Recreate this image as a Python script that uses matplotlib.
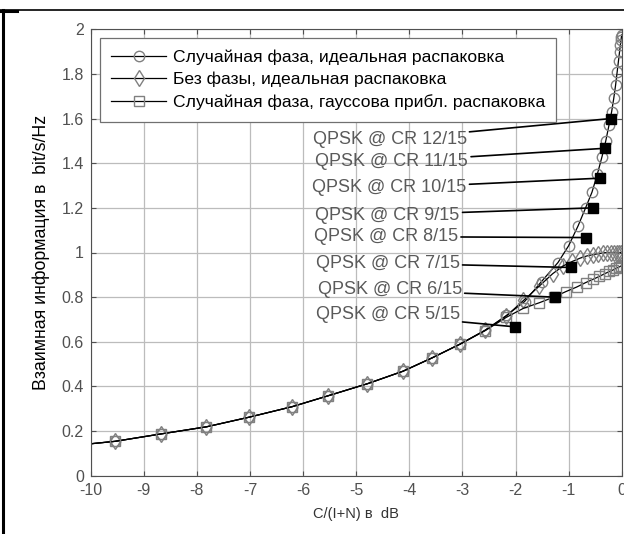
import numpy as np
import matplotlib.pyplot as plt
from matplotlib.lines import Line2D
from matplotlib.ticker import FuncFormatter

plt.rcParams['font.family'] = ['Liberation Sans', 'DejaVu Sans']
plt.rcParams['axes.unicode_minus'] = False

# Random phase, ideal demapping (circles)
x_rand = [-10.0, -9.54, -8.68, -7.82, -7.02, -6.21, -5.53, -4.79, -4.12, -3.57, -3.04, -2.57, -2.17,
          -1.83, -1.51, -1.2, -1.0, -0.82, -0.68, -0.56, -0.46, -0.37, -0.3, -0.24, -0.19, -0.15,
          -0.115, -0.085, -0.06, -0.04, -0.025, -0.014, -0.006, 0.0]
y_rand = [0.143, 0.154, 0.187, 0.219, 0.262, 0.309, 0.358, 0.412, 0.468, 0.528, 0.59, 0.652, 0.718,
          0.78, 0.87, 0.955, 1.03, 1.12, 1.2, 1.27, 1.35, 1.43, 1.5, 1.57, 1.63, 1.69,
          1.75, 1.81, 1.86, 1.9, 1.93, 1.95, 1.965, 1.975]

# No phase, ideal demapping (diamonds)
x_nophase = [-10.0, -9.54, -8.68, -7.82, -7.02, -6.21, -5.53, -4.79, -4.12, -3.57, -3.04, -2.57, -2.17,
             -1.85, -1.55, -1.3, -1.1, -0.93, -0.78, -0.65, -0.54, -0.44, -0.35, -0.27, -0.2,
             -0.14, -0.09, -0.05, -0.02]
y_nophase = [0.143, 0.154, 0.187, 0.219, 0.262, 0.309, 0.358, 0.412, 0.468, 0.528, 0.59, 0.652, 0.716,
             0.785, 0.85, 0.905, 0.94, 0.96, 0.975, 0.985, 0.99, 0.995, 0.998, 1.0, 1.0,
             1.0, 1.0, 1.0, 1.0]

# Random phase, gaussian approx. demapping (squares)
x_gauss = [-10.0, -9.54, -8.68, -7.82, -7.02, -6.21, -5.53, -4.79, -4.12, -3.57, -3.04, -2.57, -2.17,
           -1.85, -1.55, -1.28, -1.05, -0.85, -0.68, -0.54, -0.42, -0.32, -0.23, -0.16, -0.1,
           -0.05, -0.01]
y_gauss = [0.143, 0.154, 0.187, 0.219, 0.262, 0.309, 0.358, 0.412, 0.468, 0.528, 0.59, 0.65, 0.71,
           0.75, 0.775, 0.8, 0.825, 0.845, 0.865, 0.88, 0.893, 0.905, 0.915, 0.922, 0.93,
           0.935, 0.94]

# QPSK code-rate thresholds
cr_labels = ['QPSK @ CR 5/15', 'QPSK @ CR 6/15', 'QPSK @ CR 7/15', 'QPSK @ CR 8/15',
             'QPSK @ CR 9/15', 'QPSK @ CR 10/15', 'QPSK @ CR 11/15', 'QPSK @ CR 12/15']
cr_x = [-2.01, -1.26, -0.955, -0.67, -0.546, -0.41, -0.31, -0.21]
cr_y = [0.667, 0.8, 0.933, 1.067, 1.2, 1.333, 1.467, 1.6]
lab_x = [-3.05, -3.01, -3.05, -3.08, -3.05, -2.92, -2.89, -2.92]
lab_y = [0.72, 0.832, 0.952, 1.071, 1.168, 1.289, 1.407, 1.507]

fig = plt.figure(figsize=(6.24, 5.34), dpi=100)
ax = fig.add_axes([90.7 / 624, 1 - 475.7 / 534, (621.7 - 90.7) / 624, (475.7 - 29.3) / 534])

grey = '#808080'
ax.plot(x_rand, y_rand, '-', color='k', lw=0.9, marker='o', ms=7.5, mfc='none', mec=grey, mew=1.0,
        markevery=slice(1, None), label='Случайная фаза, идеальная распаковка')
ax.plot(x_nophase, y_nophase, '-', color='k', lw=0.9, marker='d', ms=8, mfc='none', mec=grey, mew=1.0,
        markevery=slice(1, None), label='Без фазы, идеальная распаковка')
ax.plot(x_gauss, y_gauss, '-', color='k', lw=0.9, marker='s', ms=7.5, mfc='none', mec=grey, mew=1.0,
        markevery=slice(1, None), label='Случайная фаза, гауссова прибл. распаковка')

ax.plot(cr_x, cr_y, 's', color='k', ms=7.5, zorder=5)
for lab, tx, ty, px, py in zip(cr_labels, lab_x, lab_y, cr_x, cr_y):
    ax.annotate(lab, xy=(px, py), xytext=(tx, ty), ha='right', va='center', fontsize=13, color='#5a5a5a',
                arrowprops=dict(arrowstyle='-', color='k', lw=1.2, shrinkA=0, shrinkB=0))

ax.set_xlim(-10, 0)
ax.set_ylim(0, 2)
ax.set_xticks(np.arange(-10, 1, 1))
ax.set_yticks(np.arange(0, 2.01, 0.2))
ax.yaxis.set_major_formatter(FuncFormatter(lambda v, p: '%g' % round(v, 1)))
ax.grid(True, color='#bcbcbc', lw=0.9)
ax.set_axisbelow(True)
ax.tick_params(direction='in', top=True, right=True, labelsize=11.5, labelcolor='#505050',
               color='#505050', pad=5)
for s in ax.spines.values():
    s.set_color('#505050')

ax.set_xlabel('C/(I+N) в  dB', fontsize=10.5, color='#333333', labelpad=7)
ax.set_ylabel('Взаимная информация в  bit/s/Hz', fontsize=12.8, color='k', labelpad=8)

leg = ax.legend(loc='upper left', bbox_to_anchor=(100 / 624, 1 - 38 / 534), bbox_transform=fig.transFigure,
                borderaxespad=0, fontsize=12.6, numpoints=1, handlelength=3.1, handletextpad=0.4,
                labelspacing=0.4, borderpad=0.65, fancybox=False, framealpha=1, edgecolor='#707070')
leg.get_frame().set_linewidth(0.9)

# page frame lines
fig.add_artist(Line2D([0, 1], [1 - 9.5 / 534, 1 - 9.5 / 534], color='k', lw=1.2))
fig.add_artist(Line2D([3 / 624, 3 / 624], [0, 1 - 9.5 / 534], color='k', lw=2.2))
fig.add_artist(Line2D([0, 17 / 624], [1 - 10.5 / 534, 1 - 10.5 / 534], color='k', lw=2.2))

fig.savefig('out.png', dpi=100)
